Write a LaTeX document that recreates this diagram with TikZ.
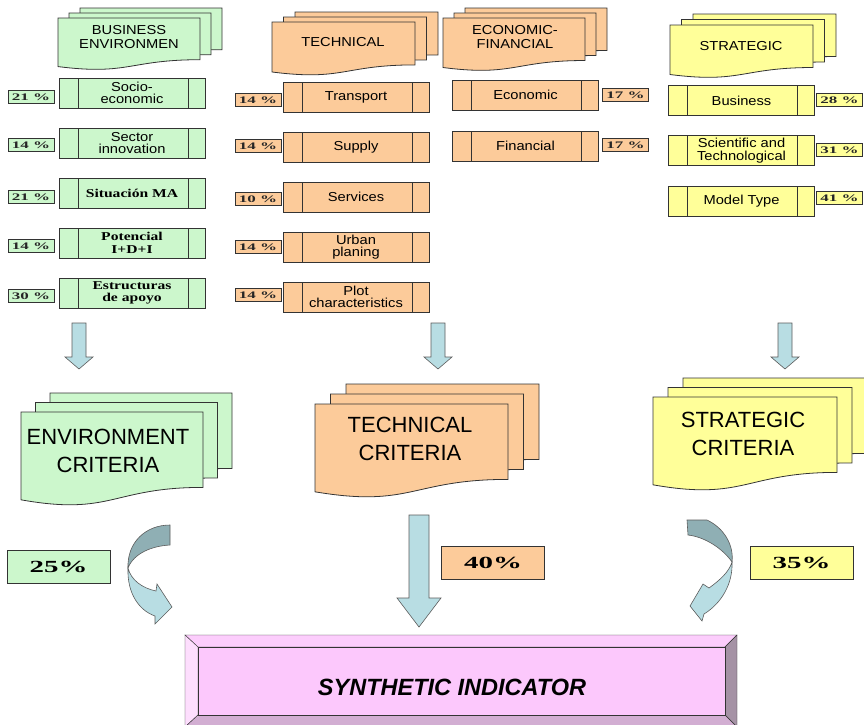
\documentclass[tikz,border=0pt]{standalone}
\usepackage{fontspec}
\setmainfont{Liberation Sans}[FakeStretch=1.13]
\newfontfamily\bigsans{Liberation Sans}
\newfontfamily\pctfont{Liberation Serif}[FakeStretch=1.7]
\newfontfamily\serifbox{Liberation Serif}[FakeStretch=1.3]
\usetikzlibrary{calc}

\definecolor{grn}{HTML}{CCF7CC}
\definecolor{org}{HTML}{FCCB9A}
\definecolor{ylw}{HTML}{FFFF99}
\definecolor{pnk}{HTML}{FCC8FC}
\definecolor{arblue}{HTML}{B8DDE3}
\definecolor{ardark}{HTML}{8FAFB4}
\definecolor{edge}{HTML}{333333}

% one sheet: x, top y, width, height, colour
\newcommand\sheet[5]{%
  \filldraw[fill=#5, draw=edge, line width=0.8pt] (#1,#2) -- ({#1+#3},#2) -- ({#1+#3},{#2+0.802*#4})
    .. controls ({#1+0.5*#3},{#2+0.802*#4}) and ({#1+0.5*#3},{#2+1.107*#4}) .. (#1,{#2+0.934*#4}) -- cycle;}
% three sheets: x, top y, width, height, dx, dy (up), colour
\newcommand\stack[7]{%
  \sheet{#1+2*#5}{#2-2*#6}{#3}{#4}{#7}
  \sheet{#1+#5}{#2-#6}{#3}{#4}{#7}
  \sheet{#1}{#2}{#3}{#4}{#7}}
% block arrow down: from, to, half shaft, half head, head length
\newcommand\blkarrow[5]{%
  \filldraw[fill=arblue, draw=edge!80, line width=0.6pt] ($(#1)+(-#3,0)$) -- ($(#1)+(#3,0)$) -- ($(#2)+(#3,-#5)$)
    -- ($(#2)+(#4,-#5)$) -- (#2) -- ($(#2)+(-#4,-#5)$) -- ($(#2)+(-#3,-#5)$) -- cycle;}

\begin{document}
\begin{tikzpicture}[x=1pt, y=-1pt,
  box/.style={draw=edge, line width=0.9pt, minimum width=146pt, minimum height=30pt, inner sep=0pt,
    align=center, font=\fontsize{13}{12.5}\selectfont,
    path picture={\draw[edge, line width=0.9pt]
      ([xshift=19pt]path picture bounding box.north west) -- ([xshift=19pt]path picture bounding box.south west)
      ([xshift=-17pt]path picture bounding box.north east) -- ([xshift=-17pt]path picture bounding box.south east);}},
  spa/.style={font=\serifbox\bfseries\fontsize{12}{12.5}\selectfont},
  pct/.style={draw=edge, line width=0.9pt, minimum width=46pt, minimum height=13pt, inner sep=0pt,
    text=black!85, font=\pctfont\bfseries\fontsize{10}{10}\selectfont},
  hdr/.style={align=center, font=\fontsize{13}{13.5}\selectfont},
  crit/.style={align=center, font=\bigsans\fontsize{22}{28}\selectfont},
  weight/.style={draw=edge, line width=0.9pt, minimum width=103pt, minimum height=33pt, inner sep=0pt,
    font=\pctfont\bfseries\fontsize{17}{17}\selectfont}]
\useasboundingbox (0,0) rectangle (864,724);

% headers
\stack{58}{18}{142}{52}{11}{5}{grn}
\stack{272}{22}{143}{53.5}{11.5}{5}{org}
\stack{443}{18}{142}{53}{11}{5}{org}
\stack{670}{25}{143}{53}{11.5}{5.5}{ylw}
\node[hdr] (busihdr) at (129,37) {BUSINESS\\ENVIRONMEN};
\node[hdr] (techhdr) at (343,42) {TECHNICAL};
\node[hdr] (econhdr) at (515,37) {ECONOMIC-\\FINANCIAL};
\node[hdr] (strathdr) at (741,46) {STRATEGIC};

% business environment
\node[box, fill=grn] (socio) at (132,93) {Socio-\\economic};
\node[box, fill=grn] (sector) at (132,143) {Sector\\innovation};
\node[box, spa, fill=grn] (situ) at (132,193) {Situación MA};
\node[box, spa, fill=grn] (poten) at (132,243) {Potencial\\I+D+I};
\node[box, spa, fill=grn] (estru) at (132,293) {Estructuras\\de apoyo};
\node[pct, fill=grn] (psocio) at (31,97) {21 \%};
\node[pct, fill=grn] (psector) at (31,145) {14 \%};
\node[pct, fill=grn] (psitu) at (31,197) {21 \%};
\node[pct, fill=grn] (ppoten) at (31,246) {14 \%};
\node[pct, fill=grn] (pestru) at (31,296) {30 \%};

% technical
\node[box, fill=org] (transp) at (356,97) {Transport};
\node[box, fill=org] (supply) at (356,147) {Supply};
\node[box, fill=org] (serv) at (356,197) {Services};
\node[box, fill=org] (urban) at (356,247) {Urban\\planing};
\node[box, fill=org] (plot) at (356,297) {Plot\\characteristics};
\node[pct, fill=org] (ptransp) at (258,100) {14 \%};
\node[pct, fill=org] (psupply) at (258,146) {14 \%};
\node[pct, fill=org] (pserv) at (258,199) {10 \%};
\node[pct, fill=org] (purban) at (258,247) {14 \%};
\node[pct, fill=org] (pplot) at (258,295) {14 \%};

% economic-financial
\node[box, fill=org] (econo) at (525.5,95) {Economic};
\node[box, fill=org] (finan) at (525.5,146) {Financial};
\node[pct, fill=org] (pecono) at (625.5,95) {17 \%};
\node[pct, fill=org] (pfinan) at (625.5,145) {17 \%};

% strategic
\node[box, fill=ylw] (busin) at (741.5,100.5) {Business};
\node[box, fill=ylw] (scien) at (741.5,150.5) {Scientific and\\Technological};
\node[box, fill=ylw] (model) at (741.5,201) {Model Type};
\node[pct, fill=ylw] (pbusin) at (839.5,100) {28 \%};
\node[pct, fill=ylw] (pscien) at (839.5,150) {31 \%};
\node[pct, fill=ylw] (pmodel) at (839.5,198) {41 \%};

% small arrows
\coordinate (envtop) at (79,323);
\coordinate (envend) at (79,369);
\coordinate (techtop) at (438,323);
\coordinate (techend) at (438,369);
\coordinate (strattop) at (785,323);
\coordinate (stratend) at (785,369);
\blkarrow{envtop}{envend}{7}{14}{12}
\blkarrow{techtop}{techend}{7}{14}{12}
\blkarrow{strattop}{stratend}{7}{14}{12}

% criteria
\stack{21}{412}{182}{94}{14.5}{9.5}{grn}
\stack{315}{404}{193}{94}{15.5}{10}{org}
\stack{653}{397}{184}{94}{15}{9.5}{ylw}
\node[crit] (envcrit) at (108,451) {ENVIRONMENT\\CRITERIA};
\node[crit] (techcrit) at (410,439) {TECHNICAL\\CRITERIA};
\node[crit] (stratcrit) at (743,434) {STRATEGIC\\CRITERIA};

% weights
\node[weight, fill=grn] (w25) at (58.5,566.5) {25\%};
\node[weight, fill=org] (w40) at (493,562.5) {40\%};
\node[weight, fill=ylw] (w35) at (801.5,562.5) {35\%};

% arrows to the indicator
\filldraw[fill=ardark, draw=edge!80, line width=0.6pt] (128,568) .. controls (127,542) and (146,525) .. (170,525)
  -- (170,545) .. controls (152,546) and (134,553) .. (128,568) -- cycle;
\filldraw[fill=arblue, draw=edge!80, line width=0.6pt] (128,568) .. controls (131,580) and (142,588) .. (156,591)
  -- (157,584) -- (172,607) -- (155,624) -- (155,616) .. controls (138,610) and (127,592) .. (128,568) -- cycle;
\coordinate (midtop) at (419,515);
\coordinate (midend) at (419,627);
\blkarrow{midtop}{midend}{10}{22}{29}
\filldraw[fill=ardark, draw=edge!80, line width=0.6pt] (687,520) -- (707,520) .. controls (724,528) and (734,545) .. (732,562)
  .. controls (724,550) and (706,537) .. (688,535) -- cycle;
\filldraw[fill=arblue, draw=edge!80, line width=0.6pt] (732,562) .. controls (733,583) and (722,603) .. (704,614)
  -- (702,621) -- (690,606) -- (703,584) -- (709,588) .. controls (720,580) and (729,572) .. (732,562) -- cycle;

% synthetic indicator
\filldraw[fill=pnk!90!white, draw=edge] (185,635) -- (737,635) -- (725,647) -- (198,647) -- cycle;
\filldraw[fill=pnk!60!white, draw=edge] (185,635) -- (198,647) -- (198,715) -- (185,727) -- cycle;
\filldraw[fill=pnk!50!black!70!white, draw=edge] (737,635) -- (725,647) -- (725,715) -- (737,727) -- cycle;
\filldraw[fill=pnk!80!black!85!white, draw=edge] (185,727) -- (198,715) -- (725,715) -- (737,727) -- cycle;
\filldraw[fill=pnk, draw=edge, line width=0.9pt] (198,647) rectangle (725,715);
\node[font=\bigsans\bfseries\itshape\fontsize{23.5}{24}\selectfont] (synth) at (452,687) {SYNTHETIC INDICATOR};
\end{tikzpicture}
\end{document}
